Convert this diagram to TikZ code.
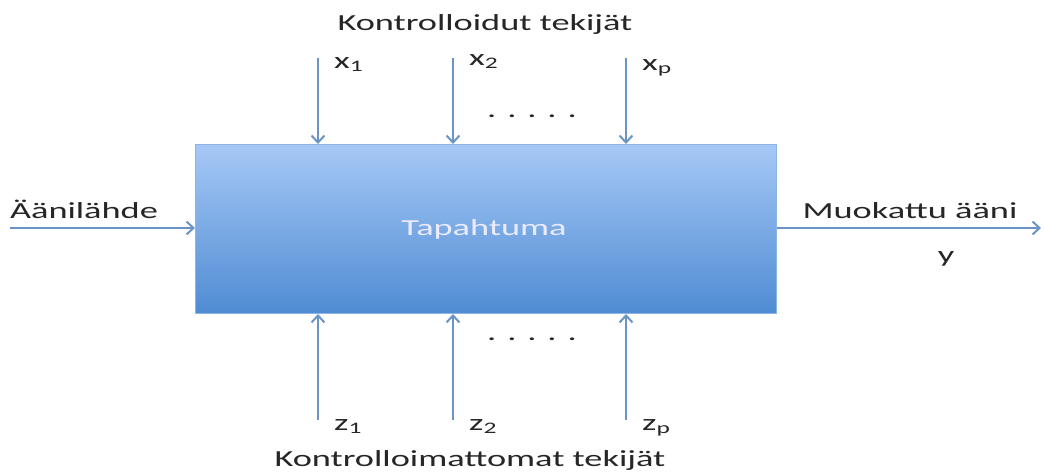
\documentclass[tikz,border=0pt]{standalone}
\usepackage{fontspec}
\setmainfont{Carlito}[FakeStretch=1.58]
\usetikzlibrary{arrows.meta}
\definecolor{arr}{HTML}{6A93C6}
\definecolor{boxtop}{HTML}{A6C8F6}
\definecolor{boxbot}{HTML}{4F8CD3}
\definecolor{boxedge}{HTML}{8DB4E6}
\definecolor{txt}{HTML}{262626}
\tikzset{
  flow/.style={draw=arr, line width=2.4pt, -{Straight Barb[length=7pt,width=13pt,line width=2pt]}},
  lbl/.style={font=\fontsize{23}{26}\selectfont, text=txt, inner sep=0pt, anchor=base},
  sub/.style={font=\fontsize{23}{26}\selectfont, text=txt, inner sep=0pt, anchor=base west},
  dots/.style={font=\fontsize{23}{26}\selectfont, text=txt, inner sep=0pt, anchor=base}
}
\begin{document}
\begin{tikzpicture}[x=1pt,y=-1pt]
\useasboundingbox (0,0) rectangle (1044,472);
\node[draw=boxedge, line width=1pt, top color=boxtop, bottom color=boxbot, minimum width=581pt, minimum height=169pt, anchor=north west, inner sep=0pt] (box) at (195,144) {};
\node[lbl, text=white!92!blue] (tap) at (484,235) {Tapahtuma};
% top
\node[lbl] (top) at (485,30) {Kontrolloidut tekijät};
\coordinate (t1) at (318,58); \coordinate (t2) at (453,58); \coordinate (t3) at (626,58);
\draw[flow] (t1) -- (t1 |- box.north);
\draw[flow] (t2) -- (t2 |- box.north);
\draw[flow] (t3) -- (t3 |- box.north);
\node[sub] (x1) at (334,68) {x\textsubscript{1}};
\node[sub] (x2) at (469,65) {x\textsubscript{2}};
\node[sub] (xp) at (642,70) {x\textsubscript{p}};
\node[dots] (d1) at (532,117) {. . . . .};
% bottom
\coordinate (b1) at (318,420); \coordinate (b2) at (453,420); \coordinate (b3) at (626,420);
\draw[flow] (b1) -- (b1 |- box.south);
\draw[flow] (b2) -- (b2 |- box.south);
\draw[flow] (b3) -- (b3 |- box.south);
\node[dots] (d2) at (532,340) {. . . . .};
\node[sub] (z1) at (334,430) {z\textsubscript{1}};
\node[sub] (z2) at (469,430) {z\textsubscript{2}};
\node[sub] (zp) at (642,430) {z\textsubscript{p}};
\node[lbl] (bot) at (470,466) {Kontrolloimattomat tekijät};
% left/right
\coordinate (in) at (10,228);
\draw[flow] (in) -- (box.west |- in);
\node[lbl] (src) at (84,218) {Äänilähde};
\coordinate (out) at (1041,228);
\draw[flow] (box.east |- out) -- (out);
\node[lbl] (res) at (910,218) {Muokattu ääni};
\node[lbl] (y) at (946,262) {y};
\end{tikzpicture}
\end{document}
